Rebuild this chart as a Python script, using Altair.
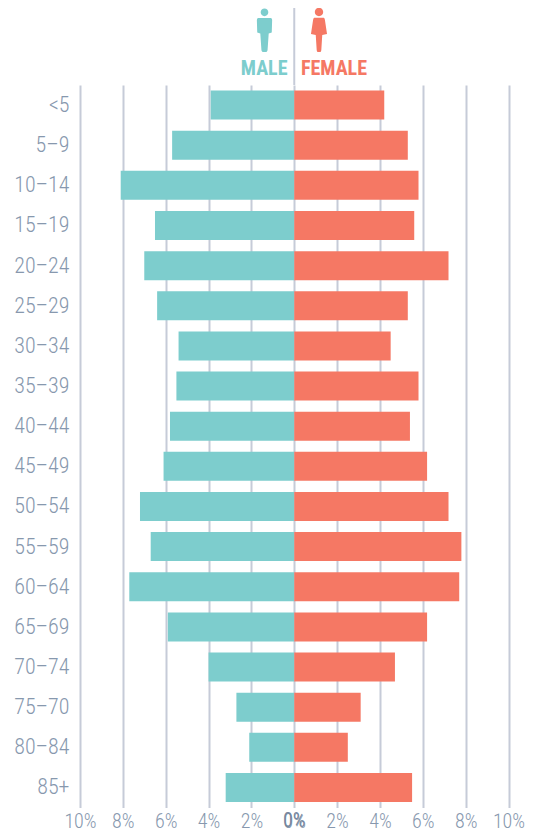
import altair as alt
import pandas as pd

ages = ["<5","5–9","10–14","15–19","20–24","25–29","30–34","35–39","40–44","45–49",
        "50–54","55–59","60–64","65–69","70–74","75–70","80–84","85+"]
male = [3.9,5.7,8.1,6.5,7.0,6.4,5.4,5.5,5.8,6.1,7.2,6.7,7.7,5.9,4.0,2.7,2.1,3.2]
female = [4.2,5.3,5.8,5.6,7.2,5.3,4.5,5.8,5.4,6.2,7.2,7.8,7.7,6.2,4.7,3.1,2.5,5.5]
ticks = [-10,-8,-6,-4,-2,0,2,4,6,8,10]

TEAL = "#7dcdcd"
CORAL = "#f57864"
GRID = "#c6cbd8"
LABEL = "#8798ae"
FONT = "Roboto Condensed, Liberation Sans Narrow, Roboto"

MALE_ICON = "M-0.2,-1.08 A0.2,0.2 0 1 1 0.2,-1.08 A0.2,0.2 0 1 1 -0.2,-1.08 Z M-0.34,-0.78 L0.34,-0.78 Q0.4,-0.76 0.4,-0.68 L0.38,-0.02 L0.22,0.02 L0.16,0.9 Q0.14,1 0.06,1 L-0.06,1 Q-0.14,1 -0.16,0.9 L-0.22,0.02 L-0.38,-0.02 L-0.4,-0.68 Q-0.4,-0.76 -0.34,-0.78 Z"
FEMALE_ICON = "M-0.22,-1.1 A0.22,0.22 0 1 1 0.22,-1.1 A0.22,0.22 0 1 1 -0.22,-1.1 Z M-0.25,-0.8 L0.25,-0.8 Q0.3,-0.78 0.31,-0.68 L0.42,0.05 L0.17,0.1 L0.12,0.9 Q0.11,1 0.05,1 L-0.05,1 Q-0.11,1 -0.12,0.9 L-0.17,0.1 L-0.42,0.05 L-0.31,-0.68 Q-0.3,-0.78 -0.25,-0.8 Z"

bars = pd.DataFrame({
    "age": ages * 2,
    "value": [-v for v in male] + female,
    "sex": ["Male"] * len(ages) + ["Female"] * len(ages),
})

x_scale = alt.Scale(domain=[-10, 10], nice=False, zero=False)
y_scale = alt.Scale(domain=ages, paddingInner=0.275, paddingOuter=0.1375)
x_enc = alt.X("value:Q", scale=x_scale, title=None,
              axis=alt.Axis(values=ticks, grid=True, gridColor=GRID, gridWidth=2, domain=False, ticks=False,
                            labelExpr="abs(datum.value) + '%'", labelColor=LABEL, labelFont=FONT,
                            labelFontSize=20, labelFontWeight=300, labelPadding=4, labelFlush=False))

bar_layer = alt.Chart(bars).mark_bar(size=29).encode(
    x=x_enc,
    x2=alt.datum(0),
    y=alt.Y("age:N", scale=y_scale, sort=ages, title=None,
            axis=alt.Axis(domain=False, ticks=False, grid=False, labelColor=LABEL, labelFont=FONT,
                          labelFontSize=22, labelFontWeight=300, labelPadding=11)),
    color=alt.Color("sex:N", scale=alt.Scale(domain=["Male", "Female"], range=[TEAL, CORAL]), legend=None),
)

center = alt.Chart(pd.DataFrame({"value": [0]})).mark_rule(color=GRID, strokeWidth=2).encode(
    x=alt.X("value:Q", scale=x_scale), y=alt.value(-77), y2=alt.value(0))

zero_label = alt.Chart(pd.DataFrame({"value": [0], "t": ["0%"]})).mark_text(
    color="#76879e", font=FONT, fontSize=20, fontWeight=400, baseline="alphabetic", align="center"
).encode(x=alt.X("value:Q", scale=x_scale), y=alt.value(741.5), text="t:N")

def head(txt, color, xpos, align):
    return alt.Chart(pd.DataFrame({"t": [txt]})).mark_text(
        color=color, font=FONT, fontSize=20, fontWeight="bold", baseline="alphabetic", align=align
    ).encode(x=alt.value(xpos), y=alt.value(-10), text="t:N")

def icon(path, color, xpos, size):
    return alt.Chart(pd.DataFrame({"t": [1]})).mark_point(
        shape=path, filled=True, color=color, opacity=1, size=size, strokeWidth=0
    ).encode(x=alt.value(xpos), y=alt.value(-52))

chart = alt.layer(
    center, bar_layer, zero_label,
    head("MALE", TEAL, 207.5, "right"), head("FEMALE", CORAL, 221, "left"),
    icon(MALE_ICON, TEAL, 184.5, 1460), icon(FEMALE_ICON, CORAL, 239, 1460),
).properties(
    width=428.5, height=722.5,
    padding={"left": 72, "top": 77, "right": 18, "bottom": 33},
    autosize=alt.AutoSizeParams(type="none"),
).configure_view(stroke=None).configure_axis(labelOverlap=False)

chart.save("out.html", embed_options={"renderer": "svg", "actions": False})
